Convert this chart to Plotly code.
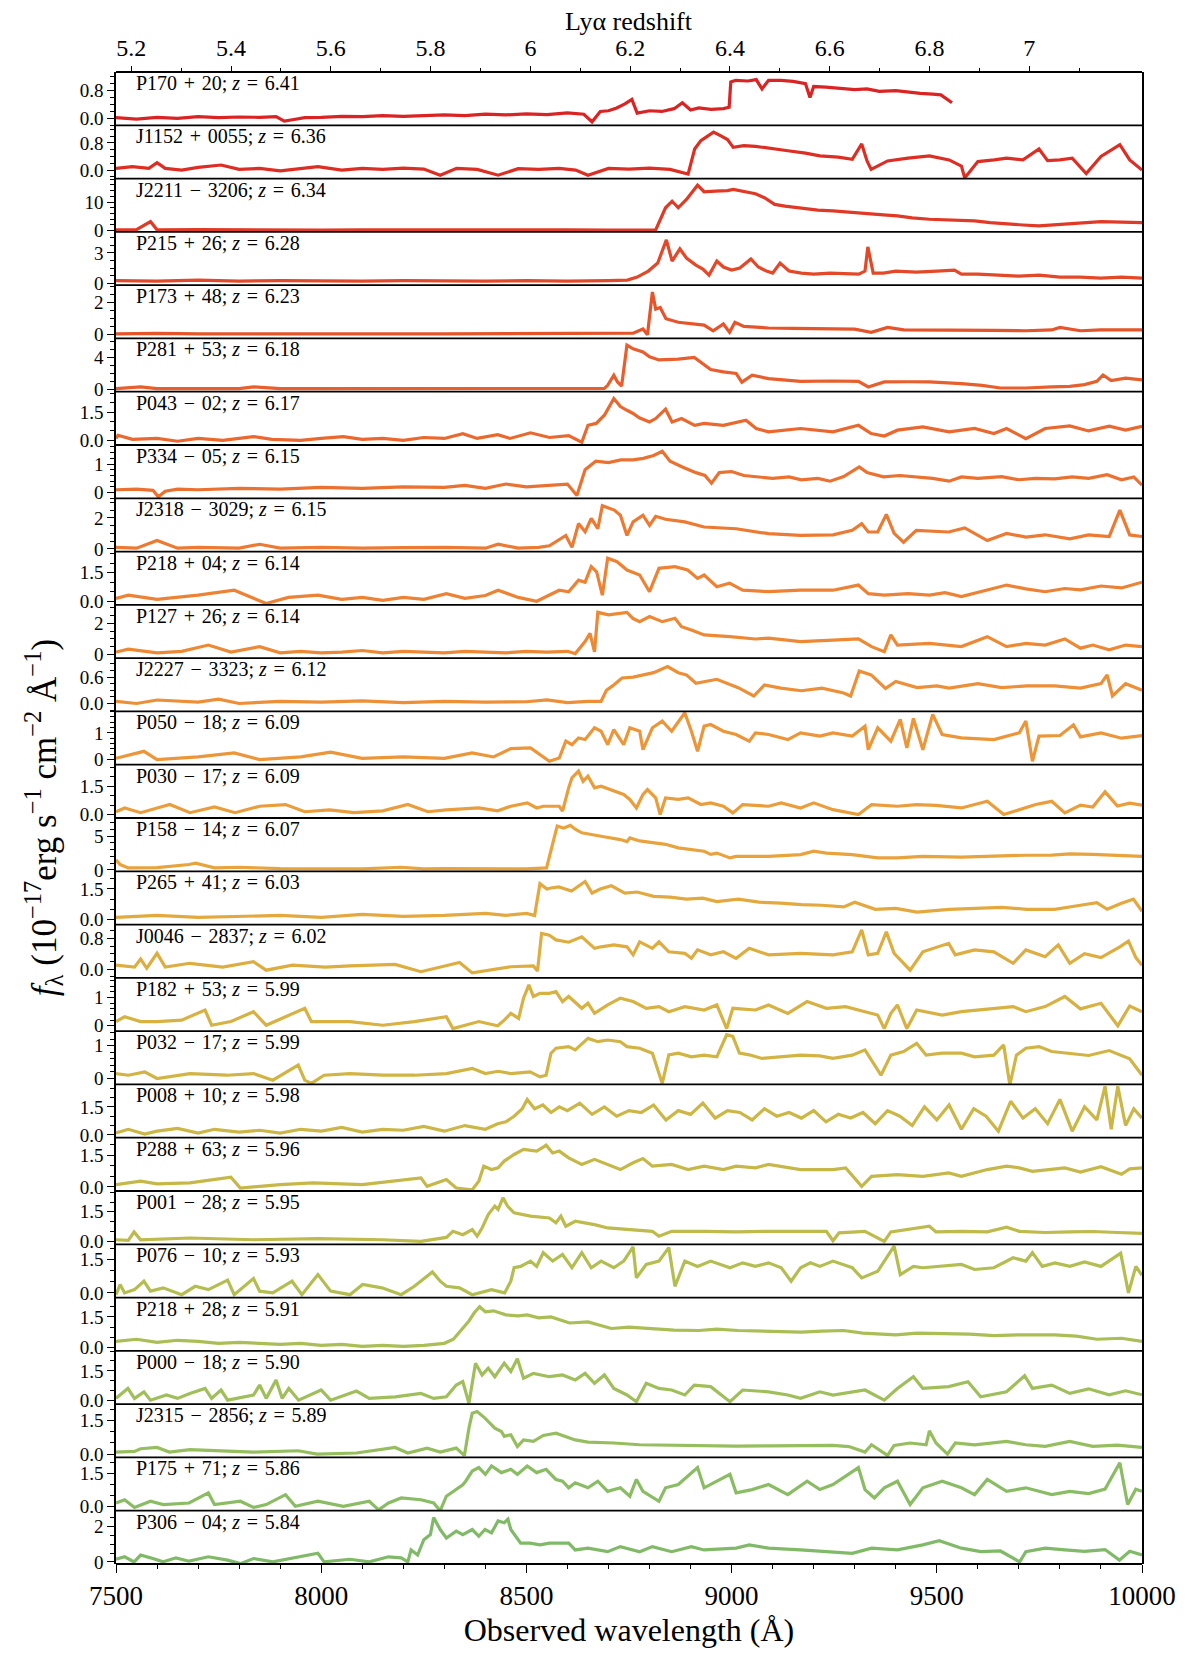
import plotly.graph_objects as go

names = ["P170 + 20", "J1152 + 0055", "J2211 − 3206", "P215 + 26", "P173 + 48", "P281 + 53",
         "P043 − 02", "P334 − 05", "J2318 − 3029", "P218 + 04", "P127 + 26", "J2227 − 3323",
         "P050 − 18", "P030 − 17", "P158 − 14", "P265 + 41", "J0046 − 2837", "P182 + 53",
         "P032 − 17", "P008 + 10", "P288 + 63", "P001 − 28", "P076 − 10", "P218 + 28",
         "P000 − 18", "J2315 − 2856", "P175 + 71", "P306 − 04"]
redshifts = ["6.41", "6.36", "6.34", "6.28", "6.23", "6.18", "6.17", "6.15", "6.15", "6.14", "6.14",
             "6.12", "6.09", "6.09", "6.07", "6.03", "6.02", "5.99", "5.99", "5.98", "5.96", "5.95",
             "5.93", "5.91", "5.90", "5.89", "5.86", "5.84"]
colors = ["#da2424", "#dd2e24", "#e03a26", "#e34828", "#e6542a", "#e85e2c", "#ea682e", "#eb7130",
          "#ec7a32", "#ed8234", "#ed8935", "#ed8f37", "#ec9639", "#ea9d3b", "#e8a33d", "#e4a93e",
          "#dead40", "#d7b142", "#d2b444", "#ccb646", "#c6b848", "#beba4c", "#b4bd50", "#aabe55",
          "#a0be5a", "#96be5f", "#8abc64", "#80ba68"]

w0 = [7500, 7550, 7600, 7650, 7700, 7750, 7800, 7850, 7890, 7910, 7930, 7960, 8000, 8050, 8100, 8150, 8200, 8250, 8300, 8350, 8400, 8450, 8500, 8550, 8600, 8640, 8660, 8680, 8700, 8720, 8740, 8757, 8770, 8800, 8830, 8860, 8880, 8900, 8920, 8950, 8980, 8994, 8998, 9010, 9040, 9060, 9074, 9090, 9120, 9150, 9180, 9191, 9200, 9230, 9260, 9300, 9330, 9360, 9400, 9430, 9460, 9490, 9510, 9537]
f0 = [0.02, -0.02, 0.03, 0.0, 0.05, 0.02, 0.04, 0.03, 0.05, -0.08, -0.04, 0.02, 0.03, 0.06, 0.05, 0.08, 0.06, 0.09, 0.1, 0.08, 0.12, 0.1, 0.13, 0.11, 0.16, 0.12, -0.1, 0.2, 0.22, 0.3, 0.42, 0.55, 0.15, 0.22, 0.2, 0.28, 0.45, 0.24, 0.3, 0.26, 0.28, 0.32, 1.05, 1.1, 1.08, 1.12, 0.85, 1.1, 1.1, 1.07, 1.0, 0.6, 0.92, 0.9, 0.88, 0.83, 0.85, 0.78, 0.8, 0.75, 0.72, 0.7, 0.68, 0.45]

w1 = [7500, 7540, 7580, 7600, 7620, 7660, 7700, 7756, 7800, 7850, 7900, 7950, 7992, 8050, 8100, 8150, 8200, 8250, 8290, 8330, 8380, 8431, 8480, 8530, 8580, 8620, 8650, 8700, 8750, 8800, 8850, 8894, 8910, 8925, 8935, 8956, 8975, 8990, 9004, 9030, 9058, 9100, 9137, 9180, 9215, 9260, 9294, 9317, 9330, 9340, 9380, 9430, 9482, 9530, 9560, 9568, 9600, 9640, 9670, 9710, 9749, 9770, 9800, 9830, 9864, 9900, 9946, 9970, 10000]
f1 = [0.05, 0.1, 0.05, 0.22, 0.05, 0.0, 0.08, 0.15, 0.02, 0.05, -0.02, 0.05, 0.1, 0.0, 0.05, 0.02, 0.06, 0.03, -0.15, 0.05, 0.02, -0.15, 0.04, 0.02, 0.05, 0.0, -0.15, 0.05, 0.03, 0.06, 0.02, -0.12, 0.62, 0.87, 0.95, 1.12, 1.0, 0.9, 0.67, 0.72, 0.7, 0.62, 0.57, 0.5, 0.42, 0.38, 0.32, 0.77, 0.27, 0.02, 0.27, 0.35, 0.42, 0.3, 0.12, -0.23, 0.25, 0.3, 0.35, 0.3, 0.62, 0.28, 0.3, 0.35, -0.1, 0.4, 0.75, 0.3, 0.0]

w2 = [7500, 7550, 7584, 7600, 7700, 7800, 7900, 8000, 8100, 8200, 8300, 8400, 8500, 8600, 8700, 8780, 8815, 8839, 8855, 8870, 8890, 8917, 8933, 8960, 8990, 9004, 9030, 9058, 9080, 9105, 9130, 9168, 9210, 9247, 9300, 9341, 9370, 9404, 9440, 9482, 9530, 9592, 9630, 9670, 9710, 9749, 9780, 9812, 9850, 9900, 9950, 10000]
f2 = [0.3, 0.4, 3.2, 0.3, 0.4, 0.3, 0.35, 0.25, 0.3, 0.35, 0.3, 0.25, 0.3, 0.3, 0.25, 0.3, 0.3, 8.0, 10.3, 8.0, 10.9, 15.9, 13.6, 13.8, 14.0, 14.4, 13.6, 12.9, 11.5, 9.2, 8.6, 8.0, 7.2, 6.9, 6.2, 5.7, 5.5, 5.2, 4.5, 4.0, 3.8, 3.4, 2.8, 2.3, 2.0, 1.7, 2.0, 2.5, 2.8, 3.2, 3.0, 2.8]

w3 = [7500, 7600, 7700, 7800, 7900, 8000, 8100, 8200, 8300, 8400, 8500, 8600, 8700, 8746, 8770, 8797, 8820, 8841, 8855, 8874, 8890, 8913, 8930, 8945, 8964, 8980, 9000, 9020, 9047, 9065, 9085, 9100, 9118, 9140, 9170, 9200, 9240, 9280, 9310, 9325, 9332, 9345, 9370, 9400, 9450, 9500, 9543, 9560, 9600, 9650, 9700, 9750, 9800, 9850, 9900, 9950, 10000]
f3 = [0.25, 0.2, 0.3, 0.2, 0.25, 0.2, 0.2, 0.25, 0.2, 0.2, 0.25, 0.2, 0.25, 0.3, 0.6, 1.2, 2.0, 4.3, 2.2, 3.4, 2.5, 1.8, 1.4, 0.8, 2.2, 1.6, 1.3, 1.5, 2.4, 1.6, 1.2, 1.0, 2.0, 1.2, 1.0, 0.9, 1.0, 0.9, 0.9, 1.2, 3.6, 1.0, 1.0, 1.2, 1.1, 1.2, 1.3, 0.9, 0.9, 0.8, 0.7, 0.8, 0.6, 0.6, 0.5, 0.6, 0.5]

w4 = [7500, 7600, 7700, 7800, 7900, 8000, 8100, 8200, 8300, 8400, 8500, 8600, 8700, 8760, 8784, 8795, 8807, 8815, 8826, 8840, 8870, 8900, 8933, 8955, 8980, 8995, 9008, 9030, 9090, 9150, 9200, 9247, 9300, 9340, 9380, 9420, 9480, 9560, 9640, 9717, 9780, 9800, 9850, 9900, 9950, 10000]
f4 = [0.05, 0.08, 0.05, 0.06, 0.05, 0.08, 0.06, 0.05, 0.05, 0.06, 0.05, 0.05, 0.06, 0.1, 0.36, 0.0, 2.67, 1.6, 1.7, 1.0, 0.78, 0.7, 0.6, 0.25, 0.67, 0.15, 0.78, 0.52, 0.42, 0.4, 0.38, 0.36, 0.35, 0.15, 0.46, 0.3, 0.28, 0.25, 0.27, 0.25, 0.3, 0.46, 0.25, 0.3, 0.28, 0.3]

w5 = [7500, 7560, 7600, 7700, 7800, 7835, 7900, 8000, 8100, 8200, 8300, 8400, 8500, 8600, 8690, 8698, 8713, 8722, 8732, 8745, 8760, 8784, 8800, 8823, 8870, 8909, 8930, 8949, 8980, 9011, 9025, 9050, 9090, 9168, 9247, 9309, 9333, 9372, 9430, 9482, 9560, 9610, 9655, 9717, 9780, 9824, 9860, 9890, 9905, 9925, 9960, 10000]
f5 = [0.1, 0.3, 0.08, 0.1, 0.1, 0.3, 0.1, 0.08, 0.1, 0.08, 0.1, 0.1, 0.08, 0.1, 0.12, 0.5, 1.77, 0.93, 0.42, 5.56, 5.1, 4.7, 4.1, 3.7, 3.8, 4.0, 3.2, 2.5, 2.2, 2.0, 0.9, 1.77, 1.35, 1.0, 1.05, 1.0, 0.3, 0.93, 0.95, 0.93, 0.72, 0.5, 0.17, 0.17, 0.3, 0.38, 0.6, 1.0, 1.8, 1.1, 1.4, 1.2]

w6 = [7500, 7505, 7540, 7600, 7650, 7700, 7760, 7835, 7880, 7950, 8000, 8054, 8100, 8150, 8200, 8250, 8300, 8345, 8380, 8430, 8460, 8510, 8556, 8603, 8635, 8650, 8670, 8690, 8713, 8729, 8745, 8760, 8775, 8800, 8815, 8839, 8855, 8878, 8910, 8933, 8980, 9035, 9060, 9090, 9168, 9247, 9309, 9340, 9372, 9404, 9466, 9530, 9592, 9639, 9670, 9717, 9764, 9824, 9870, 9920, 9960, 10000]
f6 = [0.1, 0.27, 0.05, 0.1, -0.05, 0.1, 0.0, 0.2, 0.05, 0.0, 0.1, 0.2, 0.05, 0.1, 0.0, 0.15, 0.1, 0.35, 0.1, 0.3, 0.1, 0.4, 0.15, 0.25, -0.1, 0.8, 0.9, 1.34, 2.23, 1.8, 1.6, 1.43, 1.2, 0.98, 1.16, 1.66, 0.98, 1.16, 0.8, 0.9, 0.8, 1.07, 0.63, 0.45, 0.63, 0.45, 0.8, 0.36, 0.23, 0.54, 0.71, 0.45, 0.63, 0.36, 0.63, 0.09, 0.63, 0.77, 0.5, 0.75, 0.55, 0.75]

w7 = [7500, 7550, 7590, 7603, 7620, 7650, 7700, 7800, 7900, 8000, 8100, 8200, 8300, 8350, 8400, 8450, 8500, 8550, 8600, 8623, 8643, 8669, 8700, 8730, 8759, 8785, 8810, 8831, 8850, 8880, 8913, 8935, 8951, 8970, 9000, 9030, 9067, 9100, 9140, 9170, 9210, 9240, 9273, 9311, 9330, 9370, 9410, 9452, 9490, 9530, 9560, 9600, 9658, 9700, 9740, 9787, 9830, 9870, 9915, 9950, 9980, 10000]
f7 = [0.1, 0.12, 0.08, -0.15, 0.05, 0.12, 0.1, 0.15, 0.12, 0.18, 0.15, 0.2, 0.18, 0.25, 0.15, 0.3, 0.2, 0.25, 0.3, -0.1, 0.8, 1.1, 1.05, 1.15, 1.15, 1.2, 1.3, 1.45, 1.1, 0.9, 0.7, 0.6, 0.33, 0.7, 0.74, 0.6, 0.56, 0.5, 0.55, 0.45, 0.5, 0.4, 0.56, 0.9, 0.7, 0.55, 0.6, 0.56, 0.5, 0.4, 0.55, 0.5, 0.56, 0.45, 0.5, 0.48, 0.55, 0.5, 0.63, 0.45, 0.55, 0.26]

w8 = [7500, 7550, 7600, 7650, 7700, 7800, 7850, 7900, 8000, 8100, 8200, 8300, 8400, 8431, 8480, 8530, 8556, 8596, 8611, 8627, 8643, 8658, 8674, 8685, 8714, 8729, 8745, 8760, 8784, 8800, 8815, 8839, 8886, 8933, 9011, 9090, 9168, 9247, 9294, 9317, 9333, 9356, 9377, 9396, 9419, 9450, 9529, 9568, 9623, 9670, 9717, 9764, 9824, 9870, 9920, 9946, 9970, 10000]
f8 = [0.1, 0.05, 0.54, 0.05, 0.1, 0.05, 0.3, 0.05, 0.1, 0.05, 0.08, 0.1, 0.05, 0.3, 0.05, 0.1, 0.2, 0.87, 0.1, 1.63, 1.1, 1.96, 1.3, 2.78, 2.5, 2.17, 0.87, 1.74, 2.17, 1.52, 2.1, 1.91, 1.74, 1.41, 1.3, 0.98, 0.87, 0.91, 1.2, 1.63, 1.09, 1.1, 2.22, 1.0, 0.43, 1.2, 1.09, 1.35, 0.54, 1.0, 0.76, 0.91, 0.65, 0.9, 0.8, 2.5, 0.9, 0.8]

w9 = [7500, 7530, 7600, 7650, 7700, 7788, 7866, 7920, 7992, 8050, 8100, 8150, 8200, 8250, 8305, 8350, 8400, 8431, 8480, 8525, 8580, 8603, 8627, 8643, 8658, 8671, 8685, 8698, 8721, 8745, 8776, 8800, 8823, 8862, 8893, 8917, 8933, 8964, 8995, 9027, 9090, 9168, 9247, 9309, 9333, 9372, 9430, 9482, 9520, 9560, 9623, 9670, 9717, 9764, 9812, 9850, 9900, 9950, 10000]
f9 = [0.15, 0.32, 0.1, 0.2, 0.32, 0.58, -0.12, 0.2, 0.32, 0.1, 0.2, 0.05, 0.2, 0.1, 0.4, 0.15, 0.3, 0.58, 0.2, 0.0, 0.58, 0.5, 1.11, 1.0, 1.82, 1.55, 0.32, 2.26, 2.08, 1.64, 1.38, 0.5, 1.73, 1.82, 1.64, 1.2, 1.38, 0.76, 0.95, 0.58, 0.5, 0.58, 0.58, 0.85, 0.4, 0.32, 0.4, 0.32, 0.45, 0.25, 0.58, 0.85, 0.65, 0.5, 0.67, 0.6, 0.8, 0.7, 1.0]

w10 = [7500, 7530, 7600, 7660, 7725, 7780, 7850, 7900, 7950, 8000, 8050, 8100, 8150, 8200, 8250, 8300, 8350, 8400, 8450, 8500, 8550, 8600, 8619, 8643, 8655, 8666, 8674, 8700, 8745, 8760, 8776, 8800, 8831, 8862, 8878, 8902, 8933, 8996, 9058, 9090, 9168, 9247, 9309, 9341, 9372, 9388, 9404, 9482, 9560, 9623, 9670, 9717, 9764, 9812, 9850, 9880, 9920, 9960, 10000]
f10 = [0.15, 0.34, 0.1, 0.2, 0.6, 0.15, 0.5, 0.1, 0.2, 0.1, 0.15, 0.25, 0.1, 0.2, 0.15, 0.1, 0.2, 0.15, 0.1, 0.2, 0.15, 0.2, 0.05, 0.82, 1.35, 0.17, 2.7, 2.54, 2.7, 2.3, 2.1, 2.43, 2.1, 2.32, 1.78, 1.57, 1.25, 1.14, 0.99, 1.05, 0.82, 0.92, 1.0, 0.5, 0.17, 1.25, 0.6, 0.71, 0.5, 1.14, 0.5, 0.71, 0.6, 0.99, 0.4, 0.6, 0.3, 0.6, 0.5]

w11 = [7500, 7550, 7600, 7700, 7750, 7800, 7900, 8000, 8100, 8200, 8300, 8400, 8500, 8550, 8600, 8650, 8682, 8695, 8710, 8733, 8760, 8785, 8810, 8844, 8870, 8890, 8913, 8964, 9016, 9054, 9080, 9120, 9170, 9220, 9273, 9290, 9311, 9340, 9375, 9400, 9452, 9500, 9530, 9600, 9658, 9720, 9787, 9850, 9900, 9915, 9928, 9960, 10000]
f11 = [0.05, 0.0, 0.08, 0.03, 0.1, 0.0, 0.05, 0.03, 0.06, 0.02, 0.05, 0.03, 0.04, 0.08, 0.02, 0.05, 0.05, 0.3, 0.4, 0.58, 0.6, 0.65, 0.7, 0.84, 0.7, 0.65, 0.46, 0.55, 0.36, 0.17, 0.42, 0.35, 0.29, 0.35, 0.24, 0.17, 0.74, 0.65, 0.34, 0.5, 0.36, 0.4, 0.35, 0.45, 0.36, 0.4, 0.4, 0.35, 0.45, 0.65, 0.17, 0.45, 0.3]

w12 = [7500, 7568, 7600, 7700, 7788, 7850, 7950, 8023, 8100, 8200, 8300, 8368, 8420, 8462, 8510, 8556, 8580, 8596, 8611, 8627, 8643, 8666, 8682, 8698, 8713, 8737, 8752, 8776, 8784, 8807, 8831, 8854, 8886, 8902, 8917, 8933, 8949, 8980, 9011, 9043, 9058, 9090, 9137, 9168, 9215, 9247, 9294, 9325, 9333, 9356, 9388, 9411, 9427, 9443, 9466, 9490, 9513, 9560, 9639, 9701, 9717, 9733, 9749, 9800, 9833, 9850, 9900, 9950, 10000]
f12 = [0.05, 0.31, 0.0, 0.1, 0.25, 0.0, 0.1, 0.28, 0.05, 0.1, 0.05, 0.25, 0.1, 0.41, 0.44, -0.06, 0.06, 0.69, 0.56, 0.81, 0.75, 1.19, 1.06, 0.56, 1.12, 0.56, 1.19, 1.06, 0.37, 1.19, 1.44, 1.06, 1.75, 1.06, 0.31, 1.25, 1.31, 1.06, 0.94, 0.69, 1.0, 0.94, 0.75, 1.0, 0.88, 1.0, 0.88, 1.25, 0.37, 1.19, 0.69, 1.5, 0.44, 1.54, 0.37, 1.69, 0.94, 0.81, 0.75, 1.0, 1.44, -0.06, 0.88, 0.9, 1.3, 0.85, 1.0, 0.8, 0.9]

w13 = [7500, 7521, 7560, 7631, 7680, 7740, 7790, 7850, 7913, 7960, 8020, 8080, 8150, 8211, 8260, 8305, 8384, 8430, 8462, 8502, 8525, 8541, 8580, 8588, 8603, 8611, 8627, 8638, 8650, 8666, 8682, 8713, 8737, 8752, 8768, 8784, 8795, 8815, 8826, 8839, 8870, 8894, 8925, 8949, 8980, 9003, 9027, 9090, 9121, 9168, 9200, 9247, 9309, 9341, 9404, 9450, 9498, 9560, 9623, 9663, 9717, 9741, 9780, 9812, 9850, 9880, 9910, 9940, 9970, 10000]
f13 = [0.15, 0.35, 0.1, 0.53, 0.1, 0.4, 0.1, 0.44, 0.53, 0.15, 0.25, 0.1, 0.2, 0.53, 0.15, 0.25, 0.35, 0.2, 0.44, 0.62, 0.35, 0.44, 0.44, 0.18, 1.41, 1.94, 2.29, 1.75, 2.03, 1.41, 1.5, 1.23, 1.06, 0.8, 0.35, 1.06, 1.32, 0.88, 0.0, 0.88, 0.8, 0.88, 0.53, 0.62, 0.44, 0.09, 0.53, 0.44, 0.62, 0.35, 0.62, 0.26, 0.0, 0.53, 0.44, 0.53, 0.49, 0.35, 0.7, 0.0, 0.35, 0.53, 0.7, 0.09, 0.5, 0.4, 1.2, 0.45, 0.6, 0.5]

w14 = [7500, 7510, 7530, 7600, 7678, 7694, 7740, 7800, 7900, 8000, 8100, 8195, 8250, 8300, 8400, 8500, 8549, 8564, 8575, 8590, 8607, 8620, 8635, 8682, 8729, 8745, 8752, 8776, 8807, 8839, 8870, 8902, 8933, 8949, 8964, 8996, 9011, 9090, 9168, 9200, 9231, 9294, 9356, 9404, 9466, 9560, 9639, 9717, 9780, 9824, 9880, 9940, 10000]
f14 = [1.5, 0.8, 0.3, 0.35, 0.8, 1.0, 0.3, 0.4, 0.2, 0.2, 0.15, 0.4, 0.15, 0.2, 0.15, 0.15, 0.3, 3.76, 6.5, 6.2, 6.6, 6.0, 5.5, 5.0, 4.5, 4.2, 4.75, 4.3, 4.0, 3.8, 3.27, 3.0, 2.77, 2.3, 2.5, 1.78, 2.0, 2.0, 2.28, 2.77, 2.5, 2.28, 1.78, 1.78, 2.0, 1.9, 2.08, 2.18, 2.2, 2.38, 2.3, 2.2, 2.0]

w15 = [7500, 7600, 7700, 7800, 7900, 8000, 8100, 8200, 8300, 8400, 8450, 8500, 8520, 8533, 8550, 8560, 8579, 8610, 8643, 8660, 8680, 8707, 8740, 8770, 8810, 8850, 8890, 8930, 8964, 9016, 9067, 9120, 9170, 9220, 9273, 9300, 9350, 9400, 9452, 9530, 9600, 9658, 9720, 9787, 9850, 9890, 9915, 9950, 9979, 10000]
f15 = [0.1, 0.2, 0.1, 0.15, 0.2, 0.1, 0.25, 0.15, 0.2, 0.3, 0.2, 0.3, 0.2, 1.76, 1.5, 1.55, 1.6, 1.4, 1.87, 1.3, 1.5, 1.66, 1.3, 1.35, 1.14, 1.1, 1.0, 1.05, 0.88, 1.0, 0.85, 0.8, 0.73, 0.7, 0.62, 0.85, 0.5, 0.55, 0.36, 0.5, 0.55, 0.6, 0.5, 0.5, 0.7, 0.83, 0.5, 0.8, 1.0, 0.4]

w16 = [7500, 7545, 7560, 7575, 7600, 7620, 7680, 7760, 7835, 7866, 7930, 8010, 8070, 8180, 8243, 8337, 8368, 8462, 8517, 8527, 8537, 8556, 8572, 8603, 8635, 8666, 8682, 8713, 8745, 8760, 8776, 8807, 8823, 8847, 8886, 8902, 8917, 8949, 8980, 9011, 9043, 9090, 9168, 9247, 9294, 9317, 9333, 9356, 9377, 9396, 9435, 9466, 9529, 9545, 9592, 9639, 9686, 9717, 9764, 9796, 9824, 9860, 9900, 9948, 9967, 9985, 10000]
f16 = [0.1, 0.05, 0.26, 0.02, 0.41, 0.05, 0.15, 0.05, 0.19, -0.03, 0.1, 0.05, 0.08, 0.12, -0.07, 0.17, -0.1, 0.06, 0.08, -0.05, 0.93, 0.88, 0.76, 0.7, 0.84, 0.54, 0.58, 0.63, 0.58, 0.37, 0.71, 0.54, 0.71, 0.45, 0.41, 0.28, 0.5, 0.37, 0.45, 0.28, 0.54, 0.37, 0.41, 0.37, 0.45, 1.02, 0.37, 0.41, 0.97, 0.41, -0.03, 0.45, 0.67, 0.37, 0.5, 0.45, 0.15, 0.5, 0.32, 0.63, 0.15, 0.4, 0.3, 0.59, 0.73, 0.3, 0.1]

w17 = [7500, 7521, 7560, 7600, 7660, 7717, 7733, 7780, 7835, 7866, 7960, 7976, 8070, 8150, 8227, 8305, 8321, 8384, 8430, 8446, 8462, 8481, 8493, 8506, 8517, 8533, 8556, 8572, 8588, 8603, 8635, 8650, 8666, 8698, 8729, 8760, 8792, 8823, 8847, 8886, 8933, 8964, 8988, 9003, 9058, 9090, 9137, 9184, 9231, 9278, 9325, 9356, 9372, 9388, 9404, 9427, 9451, 9513, 9560, 9639, 9686, 9717, 9764, 9812, 9850, 9900, 9941, 9970, 10000]
f17 = [0.15, 0.32, 0.15, 0.15, 0.2, 0.56, 0.02, 0.15, 0.5, 0.02, 0.62, 0.15, 0.15, 0.02, 0.15, 0.32, -0.1, 0.15, 0.0, 0.2, 0.44, 0.26, 0.98, 1.45, 1.04, 1.15, 1.15, 1.21, 0.86, 1.04, 0.62, 0.8, 0.44, 0.74, 0.98, 0.86, 0.62, 0.68, 0.5, 0.68, 0.56, 0.74, -0.1, 0.62, 0.56, 0.74, 0.44, 0.86, 0.62, 0.68, 0.5, 0.38, -0.1, 0.44, 0.74, -0.1, 0.56, 0.38, 0.5, 0.62, 0.68, 0.5, 0.68, 1.04, 0.6, 0.8, 0.0, 0.7, 0.5]

w18 = [7500, 7530, 7570, 7600, 7680, 7770, 7835, 7882, 7944, 7960, 7976, 8007, 8070, 8150, 8227, 8305, 8368, 8400, 8431, 8462, 8509, 8533, 8548, 8560, 8572, 8603, 8619, 8650, 8674, 8698, 8729, 8745, 8776, 8807, 8831, 8847, 8870, 8902, 8933, 8964, 8988, 9003, 9019, 9043, 9074, 9121, 9168, 9215, 9247, 9294, 9325, 9364, 9388, 9419, 9451, 9474, 9513, 9560, 9592, 9639, 9663, 9678, 9694, 9717, 9749, 9780, 9824, 9870, 9920, 9970, 10000]
f18 = [0.15, 0.1, 0.2, 0.0, 0.15, 0.1, 0.15, -0.05, 0.41, -0.05, -0.15, 0.1, 0.15, 0.1, 0.1, 0.15, 0.31, 0.15, 0.22, 0.15, 0.2, 0.05, 0.1, 0.77, 0.92, 0.97, 0.87, 1.22, 1.12, 1.17, 1.12, 0.97, 0.92, 0.77, -0.15, 0.72, 0.77, 0.66, 0.71, 0.66, 1.33, 1.28, 0.77, 0.72, 0.61, 0.66, 0.71, 0.69, 0.61, 0.71, 0.87, 0.1, 0.71, 0.82, 1.07, 0.71, 0.77, 0.77, 0.66, 0.71, 1.02, -0.2, 0.71, 0.92, 0.97, 0.82, 0.77, 0.7, 0.85, 0.6, 0.1]

w19 = [7500, 7530, 7570, 7600, 7650, 7700, 7740, 7800, 7850, 7900, 7950, 8000, 8050, 8100, 8150, 8200, 8250, 8300, 8350, 8400, 8430, 8450, 8470, 8490, 8502, 8520, 8540, 8560, 8580, 8600, 8630, 8660, 8690, 8720, 8750, 8780, 8810, 8840, 8870, 8900, 8930, 8960, 8990, 9020, 9050, 9080, 9110, 9140, 9170, 9200, 9230, 9260, 9290, 9320, 9350, 9380, 9410, 9440, 9470, 9500, 9530, 9560, 9590, 9620, 9650, 9680, 9710, 9740, 9770, 9800, 9830, 9860, 9890, 9910, 9925, 9941, 9960, 9980, 10000]
f19 = [0.1, 0.3, 0.05, 0.2, 0.35, 0.1, 0.3, 0.15, 0.25, 0.1, 0.3, 0.2, 0.4, 0.15, 0.3, 0.25, 0.45, 0.2, 0.5, 0.3, 0.6, 0.7, 1.0, 1.4, 1.9, 1.4, 1.6, 1.2, 1.5, 1.3, 1.7, 1.1, 1.5, 1.0, 1.3, 1.2, 1.6, 0.8, 1.3, 1.1, 1.7, 0.9, 1.3, 1.2, 0.8, 1.4, 1.0, 1.2, 0.9, 1.3, 0.7, 1.1, 0.9, 1.2, 0.6, 1.3, 1.0, 0.5, 1.5, 0.8, 1.6, 0.3, 1.4, 1.0, 0.2, 1.8, 0.9, 1.4, 0.6, 1.9, 0.2, 1.5, 0.8, 2.6, 0.3, 2.6, 0.5, 1.4, 0.9]

w20 = [7500, 7560, 7600, 7680, 7780, 7803, 7900, 7980, 8100, 8243, 8258, 8305, 8329, 8368, 8384, 8396, 8415, 8431, 8446, 8470, 8493, 8525, 8541, 8548, 8564, 8580, 8603, 8635, 8666, 8698, 8729, 8760, 8784, 8807, 8854, 8894, 8933, 8980, 9011, 9058, 9090, 9168, 9247, 9278, 9317, 9341, 9404, 9466, 9529, 9560, 9623, 9670, 9701, 9733, 9780, 9812, 9850, 9900, 9950, 9970, 10000]
f20 = [0.11, 0.27, 0.15, 0.19, 0.46, -0.05, 0.11, 0.19, 0.11, 0.43, 0.03, 0.35, -0.05, -0.13, 0.27, 0.98, 0.82, 0.9, 1.22, 1.53, 1.77, 1.69, 1.88, 1.97, 1.6, 1.69, 1.37, 1.06, 1.3, 1.06, 0.82, 1.14, 1.34, 0.98, 1.06, 0.82, 0.98, 0.82, 0.98, 0.9, 1.06, 0.82, 0.82, 0.9, 0.03, 0.5, 0.58, 0.5, 0.66, 0.5, 0.82, 0.98, 0.9, 0.74, 0.82, 0.9, 0.7, 0.95, 0.6, 0.85, 0.9]

w21 = [7500, 7530, 7544, 7560, 7680, 7835, 7992, 8150, 8243, 8305, 8321, 8345, 8368, 8380, 8392, 8407, 8423, 8431, 8443, 8454, 8470, 8510, 8556, 8572, 8584, 8596, 8619, 8666, 8698, 8745, 8807, 8823, 8854, 8933, 9011, 9090, 9168, 9231, 9247, 9262, 9325, 9372, 9388, 9482, 9498, 9560, 9623, 9670, 9701, 9764, 9824, 9880, 9940, 10000]
f21 = [0.08, 0.05, 0.48, 0.08, 0.17, 0.08, 0.14, 0.08, 0.0, 0.2, 0.51, 0.34, 0.6, 0.26, 0.68, 1.36, 1.79, 1.62, 2.21, 1.79, 1.45, 1.28, 1.19, 0.94, 1.28, 0.77, 1.02, 0.85, 0.68, 0.6, 0.51, 0.26, 0.51, 0.51, 0.48, 0.51, 0.49, 0.51, 0.03, 0.43, 0.51, 0.0, 0.48, 0.77, 0.48, 0.51, 0.48, 0.72, 0.51, 0.45, 0.48, 0.5, 0.45, 0.4]

w22 = [7500, 7510, 7521, 7545, 7568, 7584, 7615, 7660, 7693, 7725, 7772, 7788, 7835, 7850, 7882, 7929, 7953, 7992, 8023, 8070, 8101, 8148, 8195, 8227, 8271, 8290, 8305, 8337, 8368, 8415, 8447, 8462, 8470, 8486, 8510, 8525, 8541, 8564, 8588, 8611, 8635, 8658, 8682, 8713, 8737, 8760, 8768, 8792, 8823, 8847, 8862, 8886, 8917, 8949, 8996, 9027, 9058, 9090, 9121, 9145, 9168, 9192, 9215, 9247, 9294, 9317, 9356, 9396, 9411, 9443, 9466, 9498, 9560, 9592, 9639, 9686, 9717, 9733, 9757, 9788, 9824, 9860, 9900, 9948, 9967, 9985, 10000]
f22 = [-0.08, 0.38, 0.0, 0.15, 0.53, 0.08, 0.23, -0.08, 0.3, 0.15, 0.58, -0.08, 0.65, 0.08, 0.0, 0.53, -0.08, 0.83, 0.08, -0.08, 0.38, 0.23, -0.08, 0.3, 0.95, 0.53, 0.3, 0.23, -0.08, 0.15, 0.0, 0.53, 1.14, 1.2, 1.44, 1.2, 1.82, 1.44, 1.74, 1.14, 1.82, 1.14, 1.44, 1.14, 1.44, 2.08, 0.68, 1.29, 1.44, 2.05, 0.3, 1.44, 1.2, 1.44, 1.14, 1.36, 1.2, 1.36, 1.14, 0.53, 1.14, 1.36, 1.2, 1.44, 1.14, 0.68, 0.98, 2.12, 0.83, 1.2, 1.14, 1.2, 1.29, 1.06, 1.14, 1.59, 1.44, 1.82, 1.2, 1.36, 1.2, 1.4, 1.2, 1.8, 0.0, 1.2, 0.8]

w23 = [7500, 7550, 7600, 7650, 7700, 7750, 7800, 7850, 7900, 7950, 8000, 8050, 8100, 8150, 8200, 8250, 8300, 8322, 8340, 8360, 8373, 8386, 8400, 8420, 8450, 8480, 8502, 8530, 8560, 8605, 8650, 8707, 8750, 8810, 8860, 8920, 8964, 9016, 9067, 9120, 9170, 9220, 9273, 9320, 9370, 9400, 9452, 9530, 9580, 9640, 9700, 9787, 9840, 9890, 9950, 10000]
f23 = [0.3, 0.4, 0.25, 0.35, 0.3, 0.2, 0.25, 0.2, 0.15, 0.2, 0.1, 0.15, 0.05, 0.1, 0.05, 0.1, 0.2, 0.4, 0.8, 1.3, 1.7, 2.0, 1.75, 1.8, 1.6, 1.55, 1.6, 1.45, 1.5, 1.2, 1.25, 0.93, 1.0, 0.9, 0.85, 0.83, 0.9, 0.83, 0.8, 0.78, 0.75, 0.8, 0.83, 0.7, 0.65, 0.62, 0.7, 0.68, 0.65, 0.58, 0.62, 0.62, 0.55, 0.4, 0.45, 0.3]

w24 = [7500, 7529, 7545, 7568, 7584, 7623, 7650, 7680, 7717, 7733, 7756, 7772, 7835, 7850, 7866, 7890, 7905, 7921, 7945, 8000, 8023, 8086, 8117, 8180, 8243, 8274, 8305, 8329, 8345, 8360, 8376, 8392, 8407, 8423, 8446, 8462, 8478, 8493, 8517, 8556, 8588, 8619, 8643, 8666, 8690, 8713, 8745, 8768, 8792, 8823, 8854, 8886, 8909, 8949, 8996, 9027, 9090, 9137, 9168, 9215, 9247, 9325, 9372, 9404, 9443, 9466, 9529, 9576, 9607, 9670, 9714, 9733, 9780, 9824, 9870, 9920, 9960, 10000]
f24 = [0.12, 0.62, 0.12, 0.45, 0.03, 0.29, 0.12, 0.37, 0.62, 0.12, 0.54, 0.03, 0.29, 0.79, 0.12, 1.05, 0.12, 0.62, 0.03, 0.54, 0.03, 0.49, 0.12, 0.2, 0.37, 0.12, 0.2, 0.79, 0.96, -0.13, 1.89, 1.3, 1.64, 1.21, 1.89, 1.47, 2.11, 1.13, 1.38, 1.21, 1.3, 1.05, 1.38, 0.88, 1.3, 0.62, 0.29, -0.05, 0.88, 0.62, 0.54, 0.29, 0.79, 0.71, -0.05, 0.54, 0.45, 0.29, 0.12, 0.45, 0.29, 0.54, 0.03, 0.62, 1.21, 0.62, 0.71, 0.96, 0.2, 0.45, 1.26, 0.62, 0.79, 0.37, 0.6, 0.3, 0.5, 0.3]

w25 = [7500, 7545, 7560, 7600, 7630, 7680, 7835, 7944, 7990, 8086, 8180, 8211, 8258, 8290, 8329, 8349, 8360, 8368, 8380, 8399, 8423, 8439, 8446, 8462, 8478, 8493, 8517, 8541, 8572, 8596, 8619, 8650, 8713, 8776, 8854, 8933, 9011, 9090, 9168, 9247, 9286, 9325, 9341, 9380, 9396, 9435, 9474, 9482, 9498, 9526, 9545, 9592, 9670, 9717, 9764, 9824, 9880, 9940, 10000]
f25 = [0.09, 0.12, 0.24, 0.3, 0.09, 0.2, 0.09, 0.15, 0.0, 0.05, 0.3, 0.05, 0.27, 0.09, 0.27, -0.06, 1.17, 1.84, 1.92, 1.62, 1.17, 1.02, 0.8, 0.87, 0.34, 0.64, 0.57, 0.84, 0.94, 0.8, 0.64, 0.54, 0.5, 0.42, 0.39, 0.37, 0.36, 0.37, 0.39, 0.39, 0.34, 0.09, 0.42, -0.06, 0.39, 0.5, 0.42, 1.05, 0.5, 0.0, 0.5, 0.42, 0.57, 0.42, 0.35, 0.57, 0.35, 0.4, 0.3]

w26 = [7500, 7521, 7545, 7584, 7615, 7678, 7725, 7740, 7803, 7835, 7866, 7913, 7937, 7992, 8054, 8117, 8140, 8164, 8195, 8243, 8274, 8290, 8305, 8321, 8345, 8352, 8368, 8384, 8400, 8415, 8439, 8462, 8478, 8502, 8525, 8548, 8572, 8588, 8603, 8619, 8650, 8674, 8698, 8729, 8752, 8768, 8784, 8823, 8839, 8870, 8917, 8933, 8996, 9011, 9050, 9090, 9137, 9184, 9215, 9247, 9309, 9325, 9348, 9372, 9404, 9435, 9466, 9513, 9560, 9592, 9623, 9670, 9717, 9780, 9824, 9870, 9910, 9946, 9965, 9985, 10000]
f26 = [0.17, 0.32, -0.03, 0.25, 0.1, 0.17, 0.63, 0.1, 0.25, -0.03, 0.1, 0.55, 0.02, 0.25, 0.02, 0.25, -0.14, 0.17, 0.4, 0.32, 0.17, -0.18, 0.48, 0.7, 1.0, 1.16, 1.62, 1.78, 1.47, 1.85, 1.55, 1.7, 1.47, 1.85, 1.55, 1.7, 1.24, 1.16, 0.86, 1.09, 0.86, 1.16, 0.7, 0.86, 0.48, 1.24, 0.7, 0.25, 0.86, 1.01, 1.78, 0.86, 1.47, 0.63, 0.78, 1.01, 0.55, 1.16, 0.78, 1.01, 1.78, 0.78, 0.4, 0.86, 1.16, 0.1, 0.86, 1.16, 0.86, 0.55, 1.24, 0.7, 0.86, 0.55, 0.7, 0.6, 0.8, 2.0, 0.1, 0.8, 0.7]

w27 = [7500, 7521, 7544, 7560, 7584, 7615, 7646, 7678, 7725, 7772, 7803, 7835, 7882, 7929, 7992, 8007, 8070, 8117, 8164, 8195, 8211, 8219, 8235, 8250, 8266, 8274, 8290, 8305, 8329, 8345, 8368, 8384, 8399, 8415, 8431, 8446, 8455, 8462, 8486, 8509, 8533, 8556, 8603, 8619, 8650, 8698, 8729, 8776, 8807, 8854, 8902, 8933, 9011, 9043, 9090, 9168, 9247, 9294, 9341, 9404, 9466, 9506, 9560, 9607, 9655, 9702, 9717, 9764, 9812, 9860, 9910, 9945, 9970, 10000]
f27 = [0.15, 0.29, 0.0, 0.39, 0.23, 0.0, 0.23, 0.04, 0.29, 0.1, -0.1, 0.19, 0.0, 0.19, 0.49, 0.0, 0.15, 0.0, 0.29, 0.23, 0.0, 0.68, 0.39, 1.26, 1.55, 2.52, 1.84, 1.36, 1.75, 1.55, 1.84, 1.46, 1.84, 1.65, 2.33, 2.23, 2.43, 1.84, 1.07, 1.07, 0.97, 1.07, 1.07, 0.68, 0.78, 0.58, 0.87, 0.58, 0.87, 0.58, 0.87, 0.68, 0.78, 0.97, 0.78, 0.68, 0.58, 0.49, 0.78, 0.68, 0.97, 1.2, 0.78, 0.58, 0.62, 0.0, 0.58, 0.78, 0.68, 0.6, 0.7, 0.1, 0.6, 0.4]

y_ranges = [[-0.2, 1.34], [-0.25, 1.32], [-0.4, 18.2], [-0.2, 5.1], [-0.23, 3.1], [-0.3, 6.4],
            [-0.25, 2.59], [-0.2, 1.67], [-0.17, 3.26], [-0.19, 2.61], [-0.24, 3.18], [-0.18, 1.03],
            [-0.19, 1.8], [-0.18, 2.63], [-0.2, 7.7], [-0.25, 2.37], [-0.23, 1.16], [-0.19, 1.7],
            [-0.18, 1.44], [-0.15, 2.7], [-0.19, 2.32], [-0.15, 2.56], [-0.21, 2.2], [-0.17, 2.45],
            [-0.17, 2.51], [-0.15, 2.25], [-0.18, 2.24], [-0.12, 2.91]]
y_major = [0.8, 0.8, 10, 3, 2, 4, 1.5, 1, 2, 1.5, 2, 0.6, 1, 1.5, 5, 1.5, 0.8, 1, 1, 1.5, 1.5, 1.5,
           1.5, 1.5, 1.5, 1.5, 1.5, 2]
y_minor = [0.2, 0.2, 2, 0.75, 0.5, 1, 0.5, 0.2, 0.5, 0.5, 0.5, 0.15, 0.2, 0.5, 1, 0.5, 0.2, 0.2, 0.2,
           0.5, 0.5, 0.5, 0.5, 0.5, 0.5, 0.5, 0.5, 0.5]

x_ticks = [7500, 8000, 8500, 9000, 9500, 10000]
z_ticks = [5.2, 5.4, 5.6, 5.8, 6.0, 6.2, 6.4, 6.6, 6.8, 7.0]
z_labels = ["5.2", "5.4", "5.6", "5.8", "6", "6.2", "6.4", "6.6", "6.8", "7"]
z_minor = [5.3, 5.5, 5.7, 5.9, 6.1, 6.3, 6.5, 6.7, 6.9, 7.1]
LYA = 1215.67

waves = [w0, w1, w2, w3, w4, w5, w6, w7, w8, w9, w10, w11, w12, w13, w14, w15, w16, w17, w18, w19,
         w20, w21, w22, w23, w24, w25, w26, w27]
fluxes = [f0, f1, f2, f3, f4, f5, f6, f7, f8, f9, f10, f11, f12, f13, f14, f15, f16, f17, f18, f19,
          f20, f21, f22, f23, f24, f25, f26, f27]

bad = [(i, len(w), len(f)) for i, (w, f) in enumerate(zip(waves, fluxes)) if len(w) != len(f)]
if bad:
    raise ValueError(f"length mismatch: {bad}")

FONT = "Liberation Serif"
N = len(names)
NB = "\u00a0"
SP = "\u2004"
MT, MB = 64, 97
PLOT_H = 1653 - MT - MB
fig = go.Figure()
layout = dict(
    template="none",
    width=1187, height=1653,
    margin=dict(l=108, r=53, t=MT, b=MB, autoexpand=False),
    paper_bgcolor="white", plot_bgcolor="white",
    showlegend=False,
    font=dict(family=FONT, color="black", size=20),
)

for i in range(N):
    yname = "yaxis" if i == 0 else f"yaxis{i + 1}"
    yref = "y" if i == 0 else f"y{i + 1}"
    fig.add_trace(go.Scatter(x=waves[i], y=fluxes[i], mode="lines", xaxis="x", yaxis=yref,
                             line=dict(color=colors[i], width=3.2), hoverinfo="skip"))
    top = 1 - i / N
    bot = 1 - (i + 1) / N
    m = y_major[i]
    if float(m).is_integer():
        ttext = ["0", str(int(m))]
    else:
        ttext = ["0.0", f"{m:.1f}"]
    layout[yname] = dict(
        domain=[bot, top], range=y_ranges[i], anchor="x", automargin=False,
        tickmode="array", tickvals=[0, m], ticktext=ttext,
        ticks="outside", ticklen=7, tickwidth=1.3, tickcolor="black",
        minor=dict(tick0=0, dtick=y_minor[i], ticks="outside", ticklen=4, tickwidth=1, tickcolor="black"),
        showgrid=False, zeroline=False,
        showline=True, mirror=True, linecolor="black", linewidth=1.6,
        tickfont=dict(family=FONT, size=19, color="black"),
        fixedrange=True,
    )

# dummy trace so that the top (redshift) axis is drawn
fig.add_trace(go.Scatter(x=[x_ticks[0], x_ticks[-1]], y=[None, None], xaxis="x2", yaxis="y",
                         mode="lines", hoverinfo="skip", showlegend=False))

layout["xaxis"] = dict(
    range=[x_ticks[0], x_ticks[-1]], anchor=f"y{N}", automargin=False,
    tickmode="array", tickvals=x_ticks, ticktext=[str(v) for v in x_ticks],
    ticks="outside", ticklen=8, tickwidth=1.3, tickcolor="black",
    minor=dict(dtick=100, tick0=7500, ticks="outside", ticklen=4, tickwidth=1, tickcolor="black"),
    showgrid=False, zeroline=False, showline=False,
    tickfont=dict(family=FONT, size=27, color="black"),
    title=dict(text="Observed wavelength (Å)", font=dict(family=FONT, size=32, color="black"), standoff=8),
)
layout["xaxis2"] = dict(
    range=[x_ticks[0], x_ticks[-1]], overlaying="x", side="top", anchor="y", automargin=False,
    tickmode="array", tickvals=[LYA * (1 + z) for z in z_ticks], ticktext=z_labels,
    ticks="outside", ticklen=5, tickwidth=1.3, tickcolor="black",
    minor=dict(tickvals=[LYA * (1 + z) for z in z_minor], ticks="outside", ticklen=3, tickwidth=1,
               tickcolor="black"),
    showgrid=False, zeroline=False, showline=False,
    tickfont=dict(family=FONT, size=24, color="black"),
)

shapes = []
for k in range(N + 1):
    shapes.append(dict(type="line", xref="paper", yref="paper", x0=0, x1=1, y0=k / N, y1=k / N,
                       line=dict(color="black", width=1.8)))
layout["shapes"] = shapes


def label_text(name, z):
    parts = name.split(" ")
    core = SP.join(parts)
    return f"{core};{NB}<i>z</i>{SP}={SP}{z}"


annotations = []
for i in range(N):
    top = 1 - i / N
    annotations.append(dict(
        xref="paper", yref="paper", x=0.018, y=top, xanchor="left", yanchor="top", yshift=2,
        text=label_text(names[i], redshifts[i]),
        showarrow=False, font=dict(family=FONT, size=20, color="black"),
    ))
# top axis title (redshift), placed at the very top of the figure above the tick labels
annotations.append(dict(
    xref="paper", yref="paper", x=0.5, y=1 + MT / PLOT_H, xanchor="center", yanchor="top",
    yshift=2, borderpad=0, showarrow=False, text="Lyα redshift",
    font=dict(family=FONT, size=26, color="black"),
))
# y axis title
annotations.append(dict(
    xref="paper", yref="paper", x=-0.071, y=0.5, xanchor="center", yanchor="middle",
    textangle=-90, showarrow=False,
    text="<i>f</i><sub>λ</sub> (10<sup>−17</sup>erg s<sup>−1</sup> cm<sup>−2</sup> Å<sup>−1</sup>)",
    font=dict(family=FONT, size=35, color="black"),
))
layout["annotations"] = annotations

fig.update_layout(**layout)
fig.write_html("out.html")
